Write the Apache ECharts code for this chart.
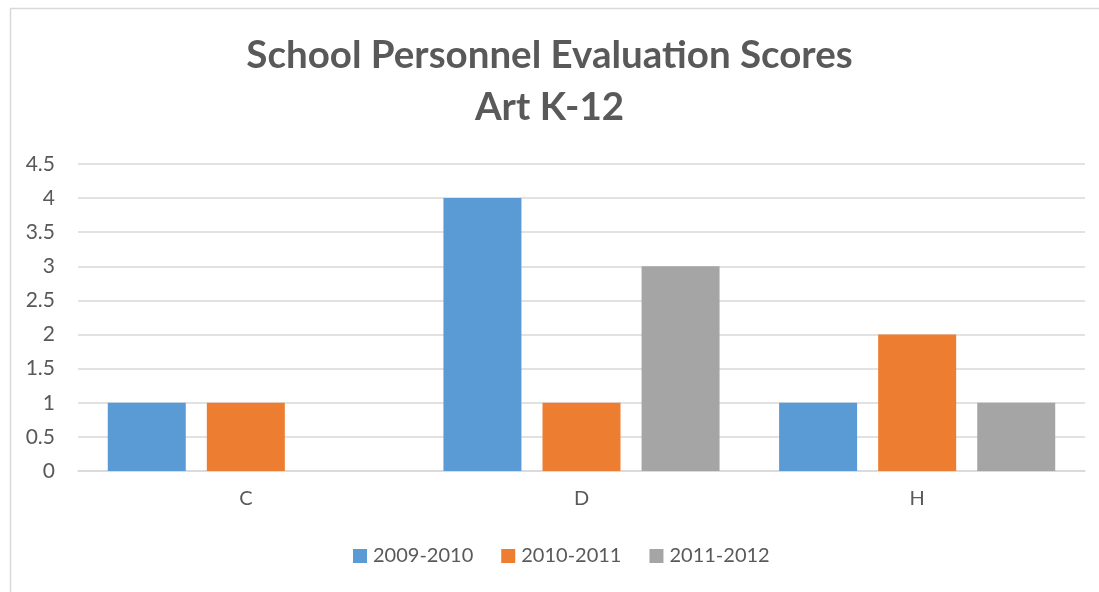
<!DOCTYPE html>
<html>
<head>
<meta charset="utf-8">
<script src="https://cdn.jsdelivr.net/npm/echarts@6/dist/echarts.min.js"></script>
<style>
html,body{margin:0;padding:0;background:#fff;}
#chart{width:1099px;height:592px;}
</style>
</head>
<body>
<div id="chart"></div>
<script>
const titleLines = ['School Personnel Evaluation Scores', 'Art K-12'];
const categories = ['C', 'D', 'H'];
const seriesNames = ['2009-2010', '2010-2011', '2011-2012'];
const values2009 = [1, 4, 1];
const values2010 = [1, 1, 2];
const values2011 = [0, 3, 1];
const colors = ['#5B9BD5', '#ED7D31', '#A5A5A5'];

const FONT = 'Lato, "Open Sans", sans-serif';
const chart = echarts.init(document.getElementById('chart'), null, {renderer: 'canvas'});
const dataSets = [values2009, values2010, values2011];
chart.setOption({
  animation: false,
  backgroundColor: '#fff',
  graphic: [{
    type: 'rect', left: 8, top: 6,
    shape: {width: 1200, height: 700},
    style: {fill: 'none', stroke: '#D9D9D9', lineWidth: 1.5},
    z: -1
  }],
  title: {
    text: titleLines.join('\n'),
    left: 'center',
    top: 25,
    textStyle: {
      fontFamily: FONT, fontWeight: 'bold', fontSize: 38.5,
      color: '#595959', lineHeight: 52
    }
  },
  legend: {
    left: 348, top: 541,
    itemWidth: 14, itemHeight: 14, itemGap: 28,
    icon: 'rect',
    textStyle: {fontFamily: FONT, fontSize: 20, color: '#595959', padding: [0,0,0,1]},
    data: seriesNames
  },
  grid: {left: 78, right: 14, top: 164, bottom: 121, containLabel: false},
  xAxis: {
    type: 'category',
    data: categories,
    axisLine: {show: true, lineStyle: {color: '#D9D9D9', width: 1.5}},
    axisTick: {show: false},
    axisLabel: {fontFamily: FONT, fontSize: 20, color: '#595959', margin: 18}
  },
  yAxis: {
    type: 'value',
    min: 0, max: 4.5, interval: 0.5,
    axisLine: {show: false},
    axisTick: {show: false},
    splitLine: {lineStyle: {color: '#D9D9D9', width: 1.5}},
    axisLabel: {fontFamily: FONT, fontSize: 21, color: '#595959', margin: 23}
  },
  series: seriesNames.map((n, i) => ({
    name: n,
    type: 'bar',
    data: dataSets[i],
    barWidth: 78,
    barGap: '27%',
    itemStyle: {color: colors[i]}
  }))
});
</script>
</body>
</html>
